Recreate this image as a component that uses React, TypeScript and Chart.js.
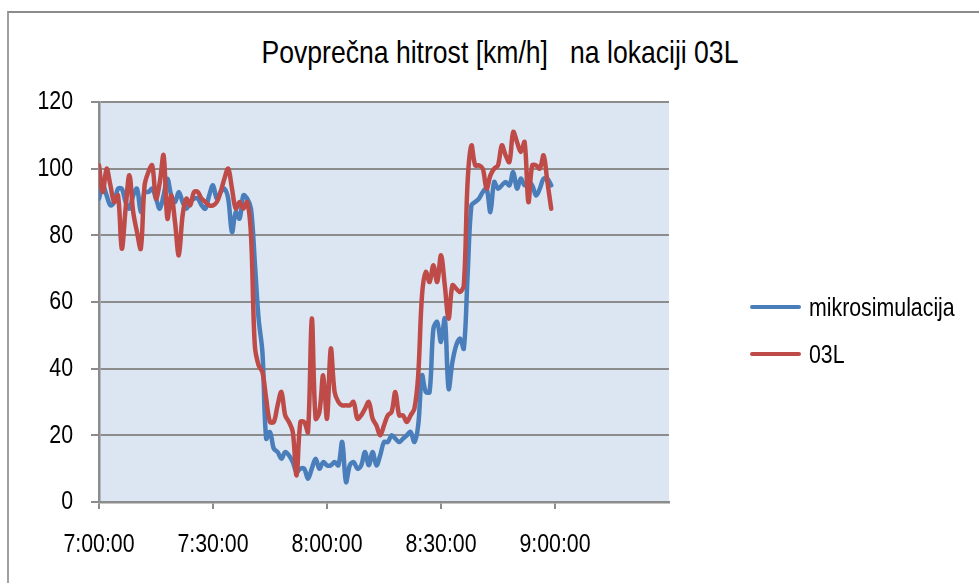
import React, { useEffect, useRef } from "react";
import { Chart, registerables } from "chart.js";

Chart.register(...registerables);

const title = "Povprečna hitrost [km/h]   na lokaciji 03L";
const seriesNames = ["mikrosimulacija", "03L"];
const xTickLabels = ["7:00:00", "7:30:00", "8:00:00", "8:30:00", "9:00:00"];
const yTicks = [0, 20, 40, 60, 80, 100, 120];

// one value per minute, 7:00 .. 8:59
const mikrosimulacija = [
  91, 95, 92, 89, 90, 94, 94, 90, 88, 92,
  94, 87, 93, 93, 94, 91, 88, 92, 97, 92,
  90, 93, 90, 88, 90, 91, 91, 89, 88, 92,
  95, 91, 93, 94, 91, 81, 87, 85, 92, 91,
  88, 72, 55, 45, 19, 21, 16, 15, 13, 15,
  14, 12, 9, 10, 10, 7, 10, 13, 10, 12,
  11, 11, 12, 11, 18, 6, 11, 12, 10, 11,
  15, 11, 15, 11, 14, 18, 18, 20, 19, 18,
  19, 20, 21, 18, 23, 38, 33, 33, 52, 54,
  48, 55, 34, 42, 47, 49, 46, 68, 89, 90,
  91, 93, 94, 87, 96, 94, 95, 96, 95, 99,
  94, 97, 95, 96, 95, 92, 94, 97, 97, 95,
];

const loc03L = [
  101, 93, 100, 95, 90, 92, 76, 88, 98, 87,
  81, 76, 95, 99, 101, 91, 96, 104, 85, 92,
  84, 74, 86, 91, 89, 93, 93, 91, 90, 89,
  89, 90, 93, 97, 100, 94, 88, 90, 88, 90,
  80, 47, 41, 39, 31, 24, 24, 29, 33, 26,
  24, 21, 8, 24, 24, 21, 55, 25, 27, 38,
  25, 46, 33, 30, 29, 29, 29, 30, 25, 26,
  28, 30, 25, 23, 20, 23, 26, 27, 33, 26,
  26, 24, 26, 28, 38, 62, 69, 66, 71, 66,
  74, 65, 55, 65, 64, 63, 65, 96, 107, 101,
  101, 100, 94, 98, 100, 101, 107, 104, 102, 111,
  108, 105, 108, 90, 101, 101, 100, 104, 96, 88,
];

const minutes = mikrosimulacija.map((_, i) => i);

const FONT = "'Liberation Sans', Arial, sans-serif";
const NARROW = 0.82;
const BLUE = "#4a7ebb";
const RED = "#be4b48";
const GRID = "#8c8c8c";

export default function App() {
  const ref = useRef<HTMLCanvasElement | null>(null);

  useEffect(() => {
    const canvas = ref.current;
    if (!canvas) return;
    const ctx = canvas.getContext("2d") as any;
    const origFill = ctx.fillText.bind(ctx);
    // condensed glyphs (Arial Narrow look) for the axis labels
    ctx.fillText = function (text: string, x: number, y: number) {
      ctx.save();
      ctx.translate(x, y);
      ctx.scale(NARROW, 1);
      origFill(text, 0, 0);
      ctx.restore();
    };
    const bgPlugin = {
      id: "plotBg",
      beforeDraw(chart: any) {
        const { ctx: c, chartArea } = chart;
        c.save();
        c.fillStyle = "#dce6f2";
        c.fillRect(chartArea.left, chartArea.top, chartArea.right - chartArea.left, chartArea.bottom - chartArea.top);
        c.restore();
      },
    };
    const chart = new Chart(ctx, {
      type: "line",
      data: {
        datasets: [
          {
            label: seriesNames[0],
            data: minutes.map((m, i) => ({ x: m, y: mikrosimulacija[i] })),
            borderColor: BLUE,
            borderWidth: 4.5,
            pointRadius: 0,
            tension: 0.35,
            borderCapStyle: "round",
            borderJoinStyle: "round",
            order: 2,
          },
          {
            label: seriesNames[1],
            data: minutes.map((m, i) => ({ x: m, y: loc03L[i] })),
            borderColor: RED,
            borderWidth: 4.5,
            pointRadius: 0,
            tension: 0.35,
            borderCapStyle: "round",
            borderJoinStyle: "round",
            order: 1,
          },
        ],
      },
      options: {
        responsive: false,
        animation: false,
        events: [],
        layout: { padding: { left: 0, top: 102, right: 310, bottom: 0 } },
        plugins: { legend: { display: false }, title: { display: false }, tooltip: { enabled: false } },
        scales: {
          x: {
            type: "linear",
            min: 0,
            max: 150,
            afterBuildTicks: (scale: any) => {
              scale.ticks = xTickLabels.map((_, i) => ({ value: i * 30 }));
            },
            afterFit: (scale: any) => {
              scale.height = 81;
            },
            ticks: {
              autoSkip: false,
              maxRotation: 0,
              padding: 20,
              color: "#000",
              font: { family: FONT, size: 26 },
              callback: (v: any) => xTickLabels[Math.round(Number(v) / 30)] ?? "",
            },
            grid: { display: true, drawOnChartArea: false, drawTicks: true, tickLength: 7, color: GRID, lineWidth: 2 },
            border: { display: true, color: GRID, width: 2.5 },
          },
          y: {
            min: 0,
            max: 120,
            afterBuildTicks: (scale: any) => {
              scale.ticks = yTicks.map((v) => ({ value: v }));
            },
            afterFit: (scale: any) => {
              scale.width = 99;
            },
            ticks: {
              padding: 18,
              color: "#000",
              font: { family: FONT, size: 26 },
            },
            grid: { color: GRID, lineWidth: 2, tickLength: 8, drawTicks: true },
            border: { display: true, color: GRID, width: 2.5 },
          },
        },
      },
      plugins: [bgPlugin],
    } as any);
    return () => {
      chart.destroy();
      ctx.fillText = origFill;
    };
  }, []);

  const legendRow = (name: string, color: string, cy: number) => (
    <div key={name} style={{ position: "absolute", left: 748, top: cy - 20, height: 40, width: 231 }}>
      <div style={{ position: "absolute", left: 2, top: 18, width: 51, height: 4, background: color, borderRadius: 2 }} />
      <div
        style={{
          position: "absolute",
          left: 61,
          top: 0,
          height: 40,
          lineHeight: "40px",
          fontFamily: FONT,
          fontSize: 26,
          color: "#000",
          whiteSpace: "nowrap",
          transform: `scaleX(${NARROW})`,
          transformOrigin: "0 0",
        }}
      >
        {name}
      </div>
    </div>
  );

  return (
    <div style={{ position: "fixed", left: 0, top: 0, width: 979, height: 583, overflow: "hidden", background: "#fff" }}>
      <div style={{ position: "absolute", left: 7, top: 11, width: 1000, height: 700, borderLeft: "2px solid #a0a0a0", borderTop: "2px solid #8c8c8c" }} />
      <div
        style={{
          position: "absolute",
          left: 0,
          width: 1000,
          top: 34,
          height: 36,
          lineHeight: "36px",
          textAlign: "center",
          fontFamily: FONT,
          fontSize: 32,
          color: "#000",
          whiteSpace: "pre",
          transform: "scaleX(0.83)",
          transformOrigin: "500px 0",
        }}
      >
        {title}
      </div>
      <canvas ref={ref} width={979} height={583} style={{ position: "absolute", left: 0, top: 0 }} />
      {legendRow(seriesNames[0], BLUE, 307)}
      {legendRow(seriesNames[1], RED, 354)}
    </div>
  );
}
